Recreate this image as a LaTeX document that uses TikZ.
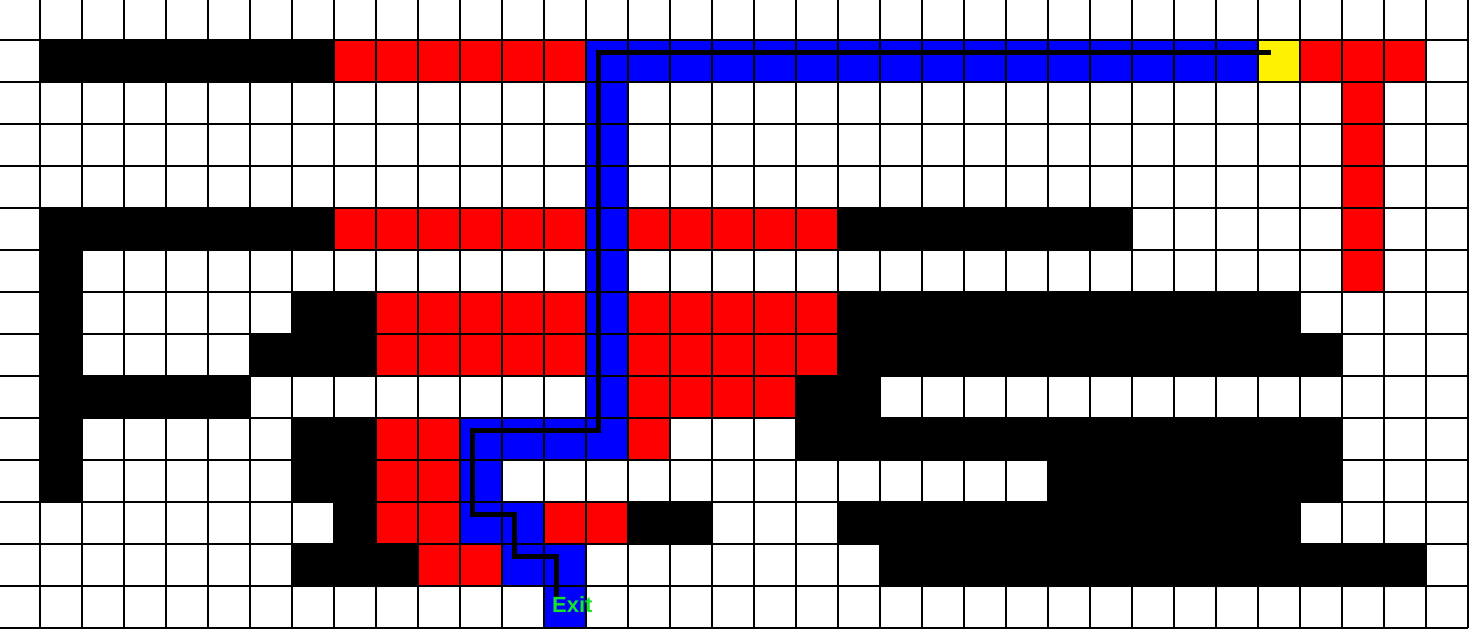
\documentclass[tikz,border=0pt]{standalone}
\usepackage{fontspec}
\setsansfont{Liberation Sans}
\definecolor{exitgreen}{RGB}{20,230,40}

\begin{document}
\begin{tikzpicture}[x=42pt,y=-42pt,
  wall/.style={fill=black},
  seen/.style={fill=red},
  route/.style={fill=blue}]
\useasboundingbox (0.0476,0.0476) rectangle (35.0476,15.0476);
% walls
\fill[wall] (1,1) rectangle (8,2);
\fill[wall] (1,5) rectangle (8,6);
\fill[wall] (20,5) rectangle (27,6);
\fill[wall] (1,5) rectangle (2,12);
\fill[wall] (7,7) rectangle (9,8);
\fill[wall] (20,7) rectangle (31,8);
\fill[wall] (6,8) rectangle (9,9);
\fill[wall] (20,8) rectangle (32,9);
\fill[wall] (1,9) rectangle (6,10);
\fill[wall] (19,9) rectangle (21,10);
\fill[wall] (7,10) rectangle (9,12);
\fill[wall] (19,10) rectangle (32,11);
\fill[wall] (25,11) rectangle (32,12);
\fill[wall] (8,12) rectangle (9,13);
\fill[wall] (15,12) rectangle (17,13);
\fill[wall] (20,12) rectangle (31,13);
\fill[wall] (7,13) rectangle (10,14);
\fill[wall] (21,13) rectangle (34,14);
% explored cells
\fill[seen] (8,1) rectangle (14,2);
\fill[seen] (31,1) rectangle (34,2);
\fill[seen] (32,2) rectangle (33,7);
\fill[seen] (8,5) rectangle (14,6);
\fill[seen] (15,5) rectangle (20,6);
\fill[seen] (9,7) rectangle (14,9);
\fill[seen] (15,7) rectangle (20,9);
\fill[seen] (15,9) rectangle (19,10);
\fill[seen] (9,10) rectangle (11,13);
\fill[seen] (15,10) rectangle (16,11);
\fill[seen] (13,12) rectangle (15,13);
\fill[seen] (10,13) rectangle (12,14);
% shortest route
\fill[route] (14,1) rectangle (30,2);
\fill[route] (14,2) rectangle (15,11);
\fill[route] (11,10) rectangle (14,11);
\fill[route] (11,11) rectangle (12,13);
\fill[route] (12,12) rectangle (13,13);
\fill[route] (12,13) rectangle (14,14);
\fill[route] (13,14) rectangle (14,15);
\fill[yellow] (30,1) rectangle (31,2);
% grid
\draw[black, line width=2pt, step=42pt] (0,0) grid (35,15);
% route line
\coordinate (start) at (30.3,1.3);
\coordinate (goal) at (13.3,14.3);
\draw[black, line width=5pt] (start) -- (14.3,1.3) -- (14.3,10.3) -- (11.3,10.3)
  -- (11.3,12.3) -- (12.3,12.3) -- (12.3,13.3) -- (13.3,13.3) -- (goal);
\node[anchor=base west, inner sep=0pt, text=exitgreen,
  font=\sffamily\bfseries\fontsize{22}{26}\selectfont] (exit) at (13.19,14.62) {Exit};
\end{tikzpicture}
\end{document}
